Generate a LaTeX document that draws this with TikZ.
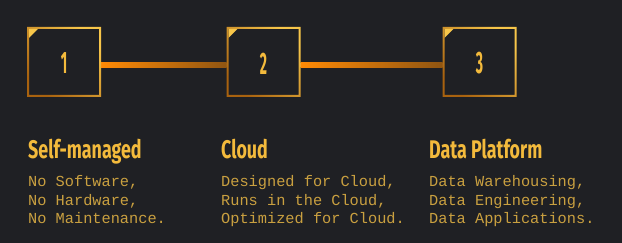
\documentclass[tikz,border=0pt]{standalone}
\usepackage{fontspec}
\setmainfont{Fira Sans}
\setmonofont{Liberation Mono}
\usetikzlibrary{calc}
\definecolor{bg}{HTML}{1F2024}
\definecolor{gold}{HTML}{F3BA3C}
\definecolor{golddim}{HTML}{C9A040}
\definecolor{rimdark}{HTML}{A8620F}
\definecolor{rimlight}{HTML}{F7C64A}
\definecolor{linkhot}{HTML}{FF8A05}
\definecolor{linkdim}{HTML}{8F5512}
\tikzset{
  x=1pt, y=1pt,
  stepbox/.style={minimum width=74pt, minimum height=70pt, inner sep=0pt, outer sep=0pt},
  numtext/.style={text=gold, font=\fontsize{31}{31}\selectfont\bfseries},
  titletext/.style={anchor=base west, inner sep=0pt, text=gold},
  bodytext/.style={anchor=north west, inner sep=0pt, text=golddim, align=left,
    font=\ttfamily\fontsize{15.3}{18.3}\selectfont},
}
% shaded frame around a step box
\newcommand{\stepframe}[1]{%
  \path[bottom color=rimdark, top color=rimlight, shading angle=-45, even odd rule]
    (#1.south west) rectangle (#1.north east)
    ($(#1.south west)+(2,2)$) rectangle ($(#1.north east)+(-2,-2)$);
  \fill[rimlight] ($(#1.north west)+(2,-2)$) -- ++(9,0) -- ++(-9,-9) -- cycle;
}
% tapering link between two boxes
\newcommand{\steplink}[2]{%
  \path[left color=linkhot, right color=linkdim]
    ($(#1.east)+(0,-0.5)$) rectangle ($(#2.west)+(0,-6)$);
}
\newcommand{\narrow}[2]{\scalebox{#1}[1]{#2}}
\begin{document}
\begin{tikzpicture}
  \fill[bg] (0,0) rectangle (622,243);
  \useasboundingbox (0,0) rectangle (622,243);

  \node[stepbox] (b1) at (64,181) {};
  \node[stepbox] (b2) at (263.5,181) {};
  \node[stepbox] (b3) at (479.5,181) {};

  \steplink{b1}{b2}
  \steplink{b2}{b3}
  \stepframe{b1}
  \stepframe{b2}
  \stepframe{b3}

  \node[numtext] (n1) at ($(b1.center)+(0,-1.5)$) {\narrow{0.45}{1}};
  \node[numtext] (n2) at ($(b2.center)+(0,-1.5)$) {\narrow{0.45}{2}};
  \node[numtext] (n3) at ($(b3.center)+(0,-1.5)$) {\narrow{0.45}{3}};

  \node[titletext] (t1) at (28,84) {\fontsize{25.5}{25.5}\selectfont\bfseries\narrow{0.70}{Self-managed}};
  \node[titletext] (t2) at (221,84) {\fontsize{25.5}{25.5}\selectfont\bfseries\narrow{0.70}{Cloud}};
  \node[titletext] (t3) at (429,84) {\fontsize{25.5}{25.5}\selectfont\bfseries\narrow{0.70}{Data Platform}};

  \node[bodytext] (d1) at (28,67.5) {No Software,\\No Hardware,\\No Maintenance.};
  \node[bodytext] (d2) at (221,67.5) {Designed for Cloud,\\Runs in the Cloud,\\Optimized for Cloud.};
  \node[bodytext] (d3) at (429,67.5) {Data Warehousing,\\Data Engineering,\\Data Applications.};
\end{tikzpicture}
\end{document}
